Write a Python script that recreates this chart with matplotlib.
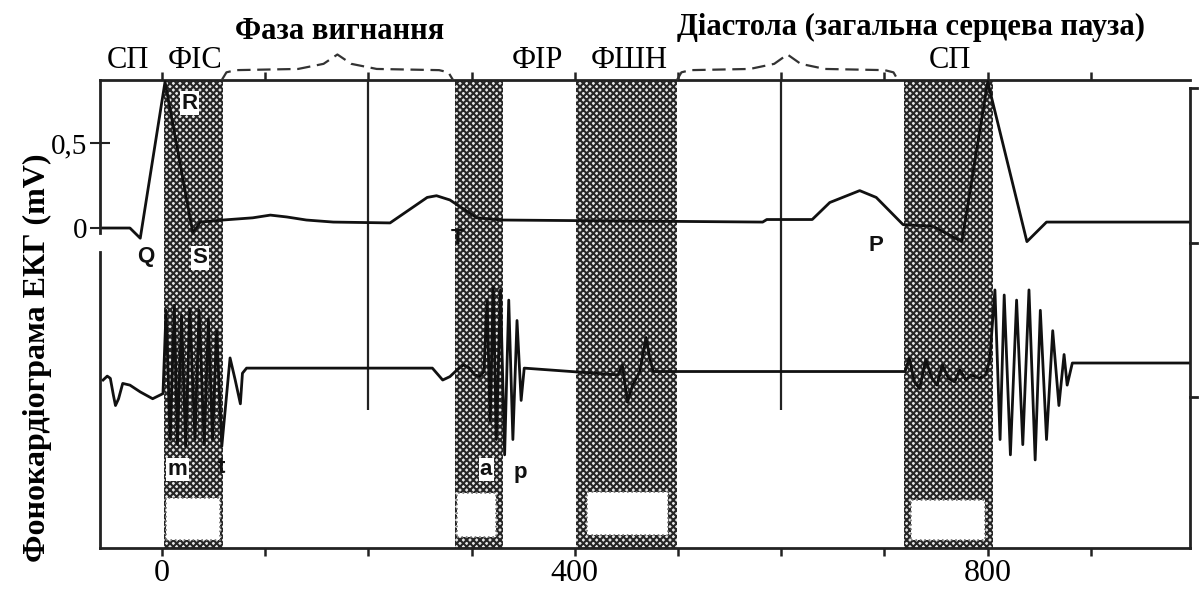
import matplotlib
matplotlib.use("Agg")
import matplotlib.pyplot as plt
from matplotlib.patches import Rectangle
import numpy as np

# ---------------- data ----------------
# ECG trace: time (ms), voltage (mV)
ecg_t = [-57, -31, -21, 3, 30, 37, 59, 88, 105, 121, 140, 166, 221, 257, 266, 279,
         305, 330, 582, 586, 630, 647, 676, 692, 718, 747, 775, 800, 838, 857, 996]
ecg_v = [0.0, 0.0, -0.06, 0.86, -0.03, 0.035, 0.047, 0.06, 0.076, 0.065, 0.047, 0.035,
         0.03, 0.18, 0.19, 0.165, 0.06, 0.047, 0.035, 0.05, 0.05, 0.15, 0.22, 0.18,
         0.02, 0.01, -0.08, 0.86, -0.08, 0.035, 0.035]

# Phonocardiogram trace: time (ms), amplitude (relative units)
pcg_t = [-57, -53, -50, -47, -45, -42, -38, -31, -21, -9, 1,
         4, 8, 12, 15, 19, 23, 27, 32, 36, 41, 45, 49, 53, 58, 66, 71, 76, 78, 82,
         262, 272, 279, 286, 292, 298, 303, 308, 312,
         315, 318, 321, 324, 328, 332, 336, 340, 344, 348, 351,
         442, 446, 451, 456, 463, 469, 473, 476,
         720, 724, 729, 734, 740, 746, 751, 756, 762, 768, 773, 779, 784, 792, 798, 802,
         807, 812, 816, 822, 828, 834, 840, 846, 851, 857, 863, 869, 874, 877, 882, 996]
pcg_a = [-0.07, -0.047, -0.06, -0.16, -0.22, -0.18, -0.09, -0.10, -0.14, -0.18, -0.15,
         0.34, -0.42, 0.37, -0.45, 0.31, -0.46, 0.35, -0.42, 0.34, -0.45, 0.29, -0.42, 0.22,
         -0.46, 0.06, -0.07, -0.21, -0.03, 0.0,
         0.0, -0.07, -0.05, -0.01, 0.02, 0.0, -0.04, -0.05, -0.02,
         0.40, -0.31, 0.48, -0.42, 0.46, -0.51, 0.40, -0.42, 0.28, -0.19, 0.0,
         -0.04, 0.02, -0.20, -0.10, -0.02, 0.18, 0.05, -0.02,
         -0.02, 0.06, -0.08, -0.12, 0.05, -0.06, -0.10, 0.02, -0.06, -0.08, -0.01, -0.07,
         -0.04, -0.06, -0.04, 0.05,
         0.46, -0.42, 0.43, -0.51, 0.40, -0.45, 0.46, -0.54, 0.34, -0.42, 0.22, -0.22,
         0.08, -0.10, 0.03, 0.03]

# shaded phases (ms)
shade_start = [2, 284, 401, 719]
shade_end = [59, 330, 499, 805]
# white boxes at the bottom of each shaded phase (ms, mV)
box_start = [4, 286, 412, 726]
box_end = [56, 324, 490, 797]
box_low = [-1.835, -1.818, -1.806, -1.835]
box_high = [-1.588, -1.559, -1.553, -1.60]

# phase labels on top
phase_labels = ["СП", "ФІС", "ФІР", "ФШН", "СП"]
phase_x = [-33, 32, 364, 453, 763]

# braces (ms)
brace_start = [58, 499]
brace_end = [282, 713]

x_ticks = [0, 400, 800]
x_ticklabels = ["0", "400", "800"]
y_ticks = [0, 0.5]
y_ticklabels = ["0", "0,5"]
marker_lines = [200, 600]

# ---------------- figure ----------------
SERIF = "Liberation Serif"
SANS = "Liberation Sans"
plt.rcParams["hatch.linewidth"] = 1.5

fig = plt.figure(figsize=(12.02, 5.93), dpi=100)
ax = fig.add_axes([100 / 1202, 45 / 593, 1090 / 1202, 468 / 593])
XMIN, XMAX = -60, 996
YMIN, YMAX = -1.882, 0.8706
ax.set_xlim(XMIN, XMAX)
ax.set_ylim(YMIN, YMAX)

# shaded regions
for s, e in zip(shade_start, shade_end):
    ax.axvspan(s, e, facecolor="#e6e6e6", edgecolor="#262626", hatch="xxxxx",
               linewidth=0, zorder=1)
for s, e, lo, hi in zip(box_start, box_end, box_low, box_high):
    ax.add_patch(Rectangle((s, lo), e - s, hi - lo, facecolor="white",
                           edgecolor="#777777", linestyle=":", linewidth=1.2, zorder=2))

# marker vertical lines
ax.vlines(marker_lines, -1.07, YMAX, color="#222222", linewidth=1.6, zorder=2)

# traces
PCG_OFFSET = -0.824
ax.plot(ecg_t, ecg_v, color="#111111", linewidth=2.0, zorder=4)
ax.plot(pcg_t, np.array(pcg_a) + PCG_OFFSET, color="#111111", linewidth=2.0, zorder=4)

# spines
for side in ["top", "bottom"]:
    ax.spines[side].set_linewidth(2.0)
    ax.spines[side].set_color("#222222")
ax.spines["left"].set_visible(False)
ax.spines["right"].set_visible(False)

# custom left axis with a gap at zero
tr = ax.get_yaxis_transform()
ax.plot([0, 0], [YMIN, -0.141], transform=tr, color="#222222", lw=2.0, clip_on=False, zorder=5)
ax.plot([0, 0], [-0.03, YMAX], transform=tr, color="#222222", lw=2.0, clip_on=False, zorder=5)
# right axis
ax.plot([1, 1], [YMIN, 0.8235], transform=tr, color="#222222", lw=2.0, clip_on=False, zorder=5)
ax.plot([1, 1.006], [0.8235, 0.8235], transform=tr, color="#222222", lw=2.0, clip_on=False, zorder=5)
for yv in [-0.088, -0.994]:
    ax.plot([1, 1.006], [yv, yv], transform=tr, color="#222222", lw=2.0, clip_on=False, zorder=5)

# ticks
ax.set_xticks(x_ticks)
ax.set_xticklabels(x_ticklabels, fontsize=23, family=SERIF)
ax.set_xticks(np.arange(0, 1000, 100), minor=True)
ax.tick_params(axis="x", which="both", top=True, bottom=True, direction="out",
               length=6, width=1.8, color="#222222", pad=2)
ax.set_yticks(y_ticks)
ax.set_yticklabels(y_ticklabels, fontsize=21, family=SERIF)
ax.tick_params(axis="y", which="both", direction="inout", length=14, width=1.5,
               color="#222222", pad=2, right=False)

# braces
def brace(x0, x1, y_base, h):
    xm = (x0 + x1) / 2
    w = x1 - x0
    xs = [x0, x0 + 0.02 * w, x0 + 0.06 * w, x0 + 0.33 * w, xm - 0.06 * w, xm,
          xm + 0.06 * w, x1 - 0.33 * w, x1 - 0.06 * w, x1 - 0.02 * w, x1]
    ys = [y_base, y_base + 0.045, y_base + 0.058, y_base + 0.065, y_base + 0.095, y_base + h,
          y_base + 0.095, y_base + 0.065, y_base + 0.058, y_base + 0.045, y_base]
    ax.plot(xs, ys, color="#333333", lw=1.6, ls=(0, (6, 3)), clip_on=False, zorder=5)

for s, e in zip(brace_start, brace_end):
    brace(s, e, YMAX, 0.15)

# phase labels
for lab, xv in zip(phase_labels, phase_x):
    ax.text(xv, 0.988, lab, fontsize=22, family=SERIF, ha="center", va="center",
            clip_on=False)

ax.text(172, 1.153, "Фаза вигнання", fontsize=22, family=SERIF, weight="bold",
        ha="center", va="center", clip_on=False)
ax.text(726, 1.182, "Діастола (загальна серцева пауза)", fontsize=22, family=SERIF,
        weight="bold", ha="center", va="center", clip_on=False)

# wave labels
wave_labels = [("R", 27, 0.735, True), ("Q", -16, -0.17, False), ("S", 37, -0.176, True),
               ("T", 286, -0.06, False), ("P", 692, -0.10, False),
               ("m", 15, -1.42, True), ("t", 58, -1.41, False),
               ("a", 314, -1.42, True), ("p", 347, -1.435, False)]
for lab, xv, yv, boxed in wave_labels:
    kw = dict(fontsize=16, family=SANS, weight="bold", ha="center", va="center",
              color="#111111", zorder=6)
    if boxed:
        kw["bbox"] = dict(facecolor="white", edgecolor="none", pad=1.0)
    ax.text(xv, yv, lab, **kw)

fig.text(37 / 1202, 1 - 358 / 593, "Фонокардіограма ЕКГ (mV)", rotation=90,
         fontsize=23, family=SERIF, weight="bold", ha="center", va="center")

fig.savefig("out.png", dpi=100, facecolor="white")
